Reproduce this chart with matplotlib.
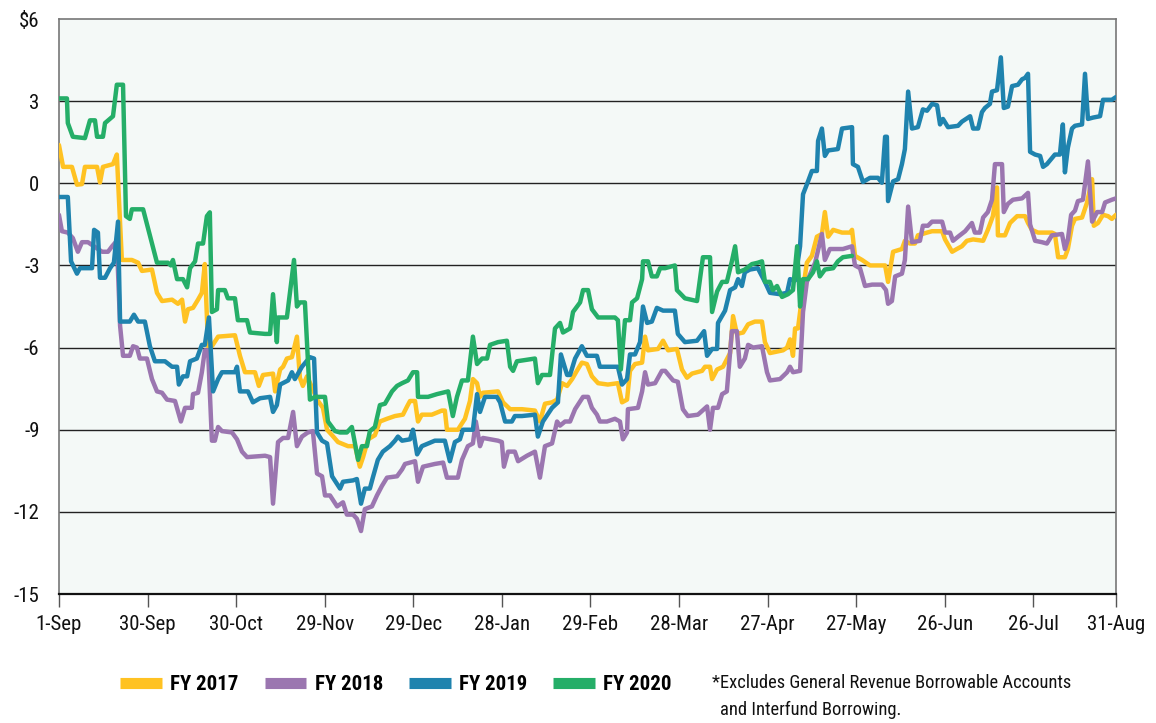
import matplotlib
matplotlib.use("Agg")
import matplotlib.pyplot as plt
from matplotlib import font_manager
from matplotlib.lines import Line2D

names = {f.name for f in font_manager.fontManager.ttflist}
cond = None
for cand in ["Liberation Sans Narrow", "DejaVu Sans Condensed", "Roboto Condensed", "Open Sans Condensed"]:
    if cand in names:
        cond = cand
        break
FAM = [cond] if cond else ["DejaVu Sans"]

# ---- data (x = days since 1-Sep, y = $ billions) ----
x_ticks = [0, 30, 60, 90, 120, 150, 180, 210, 240, 270, 300, 330, 358]
x_labels = ["1-Sep", "30-Sep", "30-Oct", "29-Nov", "29-Dec", "28-Jan", "29-Feb",
            "28-Mar", "27-Apr", "27-May", "26-Jun", "26-Jul", "31-Aug"]
y_ticks = [6, 3, 0, -3, -6, -9, -12, -15]
y_labels = ["$6", "3", "0", "-3", "-6", "-9", "-12", "-15"]

fy17_x = [0, 1.4, 4.4, 6.1, 7.8, 8.8, 12.9, 13.9, 14.9, 18.3, 19.6, 21.3, 24.7, 26.8, 28.1, 31.5,
          33.2, 34.9, 38.3, 40.3, 41.7, 42.7, 43.7, 45.4, 47.1, 48.4, 49.4, 50.5, 51.8, 53.9, 59.6,
          61.3, 63, 66.4, 67.7, 69.1, 72.5, 73.2, 74.9, 75.9, 77.2, 78.9, 80.6, 81.6, 82.6, 84,
          85.7, 87.4, 89.4, 90.8, 92.5, 94.5, 97.9, 100.3, 101.9, 103, 104.7, 107, 108.7, 111.1,
          113.8, 116.5, 117.9, 118.9, 120.6, 121.6, 122.9, 126.3, 129.7, 130.7, 131.4, 135.1,
          137.5, 139.2, 140.2, 141.6, 142.6, 143.6, 148.7, 150.4, 152.8, 156.8, 161.2, 162.9,
          164.6, 167, 168.7, 170.4, 172.1, 173.8, 175.4, 177.1, 178.8, 180.5, 182.6, 185.9,
          189.3, 190.7, 192.4, 193.4, 195.1, 197.5, 198.5, 199.5, 202.9, 204.6, 206.3, 209.3,
          211, 212.7, 214.4, 217.8, 218.8, 220.5, 221.2, 222.9, 224.9, 227.3, 228.3, 229.6,
          231.7, 233.4, 235.7, 238.1, 239.1, 240.8, 245.2, 246.6, 247.6, 248.6, 249.3, 250.3,
          251.7, 253.3, 255, 256.7, 258.4, 259.4, 260.5, 262.2, 265.2, 267.9, 268.6, 269.6, 272,
          274.7, 279.8, 280.8, 282.5, 285.5, 286.5, 288.2, 289.9, 290.9, 294, 295.7, 299.1,
          300.1, 302.5, 304.1, 305.8, 307.5, 309.6, 313, 314.6, 316.3, 317.7, 318, 320.4, 322.1,
          324.5, 327.2, 328.2, 329.5, 331.6, 336.3, 337.3, 338.4, 340.7, 341.7, 343.1, 344.1,
          346.5, 348.2, 349.9, 350.5, 351.9, 353.6, 355.3, 356.6, 358]
fy17_y = [1.4, 0.6, 0.6, -0.05, -0.03, 0.6, 0.6, 0.03, 0.6, 0.7, 1.05, -2.8, -2.8, -2.9, -3.2, -3.15,
          -4.0, -4.3, -4.25, -4.4, -4.25, -5.05, -4.6, -4.55, -4.25, -4.0, -2.95, -5.95, -5.95, -5.6, -5.55,
          -6.3, -6.9, -6.9, -7.4, -7.0, -6.95, -7.6, -6.8, -6.7, -6.4, -6.35, -5.6, -7.1, -7.4, -7.05,
          -7.45, -7.9, -8.2, -9.0, -9.2, -9.45, -9.6, -9.6, -10.35, -10.0, -9.35, -9.2, -8.7, -8.6,
          -8.5, -8.45, -8.15, -7.95, -7.95, -8.7, -8.45, -8.45, -8.3, -8.3, -9.0, -9.0,
          -8.6, -7.95, -7.15, -7.3, -7.8, -7.65, -7.6, -8.0, -8.25, -8.25, -8.3, -8.7,
          -8.05, -8.0, -7.9, -7.3, -7.4, -7.15, -6.85, -6.55, -6.6, -7.05, -7.3, -7.35,
          -7.3, -8.0, -7.9, -6.85, -6.6, -6.55, -5.6, -6.1, -6.05, -5.75, -6.1, -6.05,
          -6.8, -7.1, -6.95, -6.85, -6.7, -6.7, -7.15, -6.8, -6.7, -6.2, -4.85, -5.5,
          -5.45, -5.15, -5.05, -5.05, -5.8, -6.2, -6.1, -6.0, -5.7, -6.3, -5.3, -5.3,
          -4.1, -2.9, -2.65, -1.95, -1.85, -1.05, -1.95, -1.7, -1.8, -1.8, -1.7, -2.65, -2.8,
          -3.0, -3.0, -3.6, -2.5, -2.4, -2.1, -2.2, -2.2, -1.9, -1.8, -1.75, -1.75,
          -2.05, -2.5, -2.4, -2.3, -2.1, -2.05, -2.1, -1.7, -1.2, -0.15, -1.9, -1.9, -1.45,
          -1.2, -1.2, -1.45, -1.7, -1.8, -1.8, -1.85, -2.7, -2.7, -2.4, -1.55, -1.3,
          -1.25, -0.7, 0.15, -1.55, -1.45, -1.15, -1.2, -1.3, -1.15]

fy18_x = [0, 1, 3, 4.7, 6.4, 7.8, 9.8, 14.6, 16.6, 18, 19.6, 20.7, 21.7, 24, 25.1, 26.4, 27.4, 29.8,
          31.5, 33.2, 34.9, 36.6, 39.3, 41.3, 42.7, 45, 45.4, 47.1, 48.4, 49.4, 50.5, 51.8, 52.8,
          53.9, 55.2, 58.6, 60.3, 62, 63.7, 69.8, 71.5, 72.5, 74.2, 75.9, 77.6, 79.3, 80.6, 82.3,
          84.3, 86, 87.4, 89.1, 90.1, 91.8, 94.2, 96.2, 97.5, 99.6, 100.9, 102.3, 103.6, 106,
          107.7, 109.4, 111.1, 114.5, 116.2, 117.2, 120.6, 121.6, 123.3, 127.3, 130.1, 131.4,
          135.1, 136.5, 138.5, 140.2, 141.2, 142.6, 143.6, 148.7, 150, 150.7, 152.1, 154.4,
          155.5, 158.5, 161.2, 162.9, 164.6, 167, 168.7, 169.7, 171.4, 173.1, 174.8, 177.5,
          179.2, 180.5, 182.2, 183.2, 185.6, 188.3, 190, 191, 192.4, 192.7, 196.1, 197.5,
          198.5, 199.5, 201.9, 204.2, 205.3, 208, 209.6, 211.3, 213, 216.4, 219.5, 220.5,
          221.5, 223.2, 224.6, 226.2, 227.9, 229.6, 230.6, 232.3, 233.4, 235.1, 238.1, 239.8,
          240.8, 244.2, 246.6, 247.6, 248.6, 251, 252, 253.3, 256.1, 258.4, 259.4, 261.1,
          265.5, 268.6, 269.6, 271.3, 273, 275.4, 278.7, 280.1, 280.8, 282.1, 283.2, 285.5,
          286.5, 287.6, 288.9, 291.6, 292.6, 294.3, 295.7, 299.1, 300.1, 301.8, 302.8, 304.5,
          306.9, 309.2, 310.2, 311.9, 313, 314.6, 316, 317, 319.4, 320, 321.4, 323.1, 326.2,
          328.2, 328.9, 330.6, 332.9, 334.6, 336.3, 339.7, 340.7, 341.7, 342.8, 344.1, 345.1,
          346.8, 348.5, 349.9, 351.6, 353.3, 354.3, 356.6, 358]
fy18_y = [-1.15, -1.75, -1.8, -2.0, -2.5, -2.15, -2.15, -2.5, -2.5, -2.3, -2.1, -5.2, -6.3, -6.3, -5.95, -6.0, -6.4, -6.4,
          -7.15, -7.6, -7.65, -7.9, -7.95, -8.7, -8.2, -8.2, -7.7, -7.65, -6.9, -6.1, -6.1, -9.4, -9.4,
          -8.9, -9.05, -9.1, -9.35, -9.8, -10.0, -9.95, -10.0, -11.7, -9.45, -9.3, -9.3, -8.35, -9.6, -9.25,
          -9.1, -9.05, -10.6, -10.7, -11.4, -11.4, -11.8, -11.65, -12.1, -12.1, -12.25, -12.7, -11.9, -11.8,
          -11.4, -11.05, -10.75, -10.7, -10.45, -10.25, -10.15, -10.9, -10.35, -10.25, -10.2, -10.75,
          -10.75, -10.1, -9.6, -9.5, -8.7, -9.6, -9.3, -9.4, -9.45, -10.35, -9.8, -9.8,
          -10.15, -9.95, -9.8, -10.75, -9.6, -9.5, -8.7, -8.85, -8.7, -8.7, -8.25, -7.8,
          -7.8, -8.2, -8.45, -8.7, -8.7, -8.6, -8.7, -9.35, -9.1, -8.25, -8.2, -7.6,
          -6.9, -7.35, -7.3, -6.85, -6.85, -7.2, -7.25, -8.25, -8.5, -8.45, -8.15, -9.0,
          -8.2, -8.2, -7.7, -7.6, -5.4, -5.4, -6.7, -6.4, -5.9, -6.0, -5.95, -6.9,
          -7.2, -7.15, -6.9, -6.7, -6.9, -6.85, -4.7, -3.6, -2.9, -1.85, -2.8, -2.4,
          -2.4, -2.3, -3.0, -3.1, -3.75, -3.7, -3.7, -3.9, -4.4, -4.3, -3.4, -3.3,
          -2.8, -0.85, -2.15, -2.1, -1.55, -1.55, -1.4, -1.4, -1.8, -1.8, -2.1, -1.95,
          -1.75, -1.45, -1.8, -1.8, -1.25, -1.05, -0.6, 0.7, 0.7, -1.05, -0.75, -0.6, -0.55,
          -0.35, -1.5, -2.1, -2.15, -2.2, -1.9, -1.85, -2.4, -2.05, -1.15, -1.0, -0.65,
          -0.6, 0.8, -1.4, -1.05, -1.05, -0.7, -0.6, -0.55]

fy19_x = [0, 3, 4.1, 6.1, 7.1, 11.2, 11.9, 13.2, 13.9, 15.6, 17.3, 18.6, 20, 20.7, 24, 25.4, 26.8,
          29.1, 30.8, 32.5, 35.9, 38.3, 40, 40.6, 42, 43.4, 44.4, 46.7, 48.4, 49.4, 50.8, 52.2,
          53.9, 55.2, 59.6, 60.3, 61.3, 64, 65.7, 68.1, 71.5, 72.5, 73.8, 74.9, 77.6, 78.9, 79.9,
          82.3, 85, 86.4, 87.4, 89.1, 90.8, 92.5, 95.2, 96.2, 99.6, 100.9, 102.3, 103.6, 105.3,
          106.3, 108, 109.7, 112.1, 113.8, 114.8, 116.2, 118.9, 119.9, 121.3, 122.9, 127.3,
          130.7, 132.4, 134.1, 135.8, 136.8, 140.2, 141.6, 142.6, 144.3, 148.3, 149.4, 151.1,
          153.4, 154.4, 156.8, 161.2, 162.2, 163.9, 167, 169, 170, 172.1, 173.1, 174.8, 177.1,
          178.8, 182.2, 183.2, 189.3, 190.7, 192.4, 193.4, 195.1, 196.8, 197.8, 199.2, 200.8,
          202.5, 204.6, 208.6, 209.6, 212, 216.1, 218.5, 219.5, 221.2, 222.9, 223.2, 225.6,
          227.3, 229, 230, 231.3, 232.3, 234, 236.7, 239.1, 240.8, 244.2, 246.6, 247.6, 249.3,
          251, 252, 253.7, 255, 256.7, 257.1, 258.4, 259.4, 260.5, 263.8, 265.2, 268.6, 268.9,
          270.6, 272.3, 274.7, 277.4, 278.7, 279.8, 280.4, 280.8, 282.5, 284.2, 285.5, 286.5,
          287.6, 288.9, 290.9, 292.6, 294, 295.7, 297.4, 298.4, 299.4, 301.1, 304.5, 305.8,
          308.6, 309.6, 311.3, 312.6, 313.6, 315.3, 316, 317.7, 319, 320, 321.4, 322.8, 324.8,
          326.2, 327.2, 328.2, 328.9, 330.6, 332.3, 333.3, 334.6, 337.3, 339, 340, 340.7, 341.7,
          343.1, 344.1, 346.5, 347.5, 348.5, 350.2, 352.6, 353.6, 356.6, 358]
fy19_y = [-0.5, -0.5, -2.85, -3.3, -3.1, -3.1, -1.7, -1.8, -3.45, -3.45, -3.1, -2.9, -1.4, -5.05, -5.05, -4.8, -5.05,
          -5.05, -5.95, -6.5, -6.5, -6.7, -6.7, -7.35, -7.05, -7.05, -6.5, -6.4, -5.9, -5.9, -4.9, -7.6,
          -7.15, -6.9, -6.9, -6.7, -7.6, -7.6, -8.0, -7.85, -7.8, -8.35, -8.1, -7.35, -7.2, -6.9, -7.15,
          -6.7, -6.35, -6.4, -9.1, -9.4, -9.5, -10.7, -11.15, -10.9, -10.85, -10.8, -11.7, -11.15, -11.15,
          -10.75, -10.1, -9.8, -9.6, -9.4, -9.25, -9.4, -9.35, -9.0, -9.9, -9.6, -9.4,
          -9.4, -10.15, -9.45, -9.35, -9.0, -9.0, -7.7, -8.35, -7.8, -7.8, -8.0, -8.7,
          -8.7, -8.5, -8.5, -8.45, -9.25, -8.7, -8.2, -8.0, -6.25, -7.0, -7.0, -6.4, -5.95,
          -6.3, -6.3, -6.7, -6.7, -7.35, -7.15, -6.25, -6.25, -5.8, -4.5, -5.1, -5.05,
          -4.55, -4.65, -4.65, -5.5, -5.8, -5.75, -5.4, -6.3, -6.05, -6.05, -5.1, -4.65,
          -3.9, -3.8, -3.5, -3.75, -3.25, -3.15, -3.1, -3.6, -4.0, -4.05, -4.0, -3.5, -3.55,
          -2.3, -0.4, 0.07, 0.45, 0.45, 1.55, 2.0, 1.0, 1.2, 1.25, 2.0, 2.05, 0.7,
          0.6, 0.05, 0.2, 0.2, 0.02, 1.7, 1.7, -0.65, 0.07, 0.15, 0.7, 1.25,
          3.35, 2.0, 2.05, 2.7, 2.65, 2.9, 2.85, 2.15, 2.35, 2.05, 2.1, 2.25,
          2.45, 2.0, 2.0, 2.6, 2.75, 2.9, 3.35, 3.4, 4.6, 2.75, 2.8, 3.55, 3.6,
          3.8, 3.85, 4.0, 1.15, 1.05, 1.0, 0.6, 0.7, 1.05, 1.05, 2.15, 0.4, 1.3,
          2.0, 2.1, 2.15, 4.0, 2.35, 2.4, 2.45, 3.05, 3.05, 3.15]

fy20_x = [0, 2.7, 3, 4.7, 8.8, 10.5, 12.2, 12.9, 14.9, 15.6, 18.3, 19.6, 21.7, 22.7, 24, 24.7, 28.5,
          31.5, 33.2, 36.9, 37.9, 38.6, 40, 42, 43.4, 44.4, 46.1, 47.1, 48.8, 50.1, 51.1, 51.8, 53.5,
          53.9, 56.2, 57.2, 59.6, 60.6, 63.7, 64.7, 69.8, 71.5, 72.5, 73.8, 74.2, 77.2, 79.6, 80.6,
          81.6, 83.3, 85, 86.7, 90.1, 91.1, 93.5, 95.2, 97.5, 99.2, 101.3, 102.6, 104.3, 105.3,
          107, 108.7, 110.4, 112.8, 114.5, 116.2, 118.2, 119.9, 121.3, 121.6, 125, 128, 131.8,
          133.4, 134.8, 136.5, 138.5, 140.2, 141.6, 143.3, 145, 146, 148.7, 151.7, 152.8, 153.8,
          155.1, 161.2, 162.2, 163.6, 166.3, 168, 169.7, 170.7, 173.1, 174.1, 176.5, 177.5,
          179.2, 180.5, 182.6, 188.3, 189.3, 190.3, 191.7, 193.4, 194.1, 195.8, 197.5, 197.8,
          199.5, 200.8, 202.5, 203.6, 205.3, 208.6, 209.3, 212, 216.1, 218.1, 220.5, 221.2,
          222.9, 224.6, 226.2, 227.9, 229, 230, 232.3, 234.7, 236.7, 238.1, 239.1, 240.8, 241.8,
          243.2, 244.9, 246.9, 248.6, 250, 251, 252, 253.7, 255.4, 256.7, 257.7, 259.4, 262.2,
          263.8, 265.5, 268.6]
fy20_y = [3.1, 3.1, 2.2, 1.7, 1.65, 2.3, 2.3, 1.7, 1.7, 2.2, 2.45, 3.6, 3.6, -1.2, -1.3, -0.95, -0.95,
          -2.2, -2.9, -2.9, -3.0, -2.8, -3.5, -3.5, -3.8, -3.1, -2.85, -2.2, -2.2, -1.2, -1.06, -4.7, -4.6,
          -3.9, -3.9, -4.2, -4.2, -5.0, -5.0, -5.45, -5.5, -5.5, -4.05, -5.8, -4.9, -4.9, -2.8, -4.5,
          -4.35, -4.35, -7.9, -7.8, -7.8, -8.7, -9.05, -9.1, -9.1, -8.9, -10.1, -9.6, -9.6, -9.05,
          -8.9, -8.1, -8.05, -7.6, -7.4, -7.3, -7.2, -6.9, -6.9, -7.8, -7.8, -7.7, -7.6,
          -8.5, -7.8, -7.2, -7.2, -5.6, -6.6, -6.4, -6.4, -5.9, -5.8, -5.75, -6.7, -6.85,
          -6.5, -6.4, -7.3, -7.0, -7.0, -5.3, -5.1, -5.45, -5.3, -4.7, -4.35, -3.9,
          -3.9, -4.6, -4.9, -4.9, -5.0, -6.8, -5.0, -5.0, -4.35, -4.2, -3.5, -2.85,
          -2.85, -3.4, -3.4, -3.1, -3.1, -3.0, -3.9, -4.2, -4.3, -2.7, -2.7, -4.7,
          -3.95, -3.6, -3.6, -2.85, -2.3, -3.25, -3.15, -2.95, -2.9, -2.85, -3.6, -3.6, -3.9,
          -3.75, -4.15, -4.05, -3.9, -2.3, -4.5, -3.5, -3.5, -3.25, -2.85, -3.4, -3.15, -3.1,
          -2.85, -2.7, -2.65]

series = [("FY 2017", fy17_x, fy17_y, "#FFC222"),
          ("FY 2018", fy18_x, fy18_y, "#9B76B0"),
          ("FY 2019", fy19_x, fy19_y, "#1F83AE"),
          ("FY 2020", fy20_x, fy20_y, "#25AE68")]

plt.rcParams['font.family'] = FAM
fig = plt.figure(figsize=(11.56, 7.23), dpi=100)
ax = fig.add_axes([0.051, 0.1784, 0.9144, 0.7953])
ax.set_facecolor("#F4F9F7")

for lab, xs, ys, col in series:
    ax.plot(xs, ys, color=col, lw=3.2, solid_joinstyle="round", solid_capstyle="round",
            label=lab, zorder=3)

ax.set_xlim(0, 358)
ax.set_ylim(-15, 6)
for yv in y_ticks[1:-1]:
    ax.axhline(yv, color="#222222", lw=1.0, zorder=1)
ax.set_yticks(y_ticks)
ax.set_yticklabels(y_labels, fontsize=15, color="#111111")
ax.set_xticks(x_ticks)
ax.set_xticklabels(x_labels, fontsize=15, color="#111111")
ax.tick_params(axis="y", length=0, pad=14)
ax.tick_params(axis="x", length=9, width=1, color="#555555", pad=6, direction="out")
for s in ["left", "right", "top"]:
    ax.spines[s].set_color("#777777")
    ax.spines[s].set_linewidth(1.2)
ax.spines["bottom"].set_color("#111111")
ax.spines["bottom"].set_linewidth(1.6)

handles = [Line2D([0], [0], color=c, lw=8, solid_capstyle="butt") for _, _, _, c in series]
labels = [s[0] for s in series]
leg = fig.legend(handles, labels, loc="center left", bbox_to_anchor=(0.104, 0.053), ncol=4,
                 frameon=False, handlelength=2.0, handletextpad=0.4, columnspacing=1.25,
                 borderpad=0, borderaxespad=0,
                 prop={"family": FAM, "weight": "bold", "size": 15})

fig.text(0.616, 0.055, "*Excludes General Revenue Borrowable Accounts", fontsize=13.3,
         color="#111111", va="center", ha="left")
fig.text(0.623, 0.018, "and Interfund Borrowing.", fontsize=13.3, color="#111111",
         va="center", ha="left")

fig.savefig("out.png", dpi=100)
